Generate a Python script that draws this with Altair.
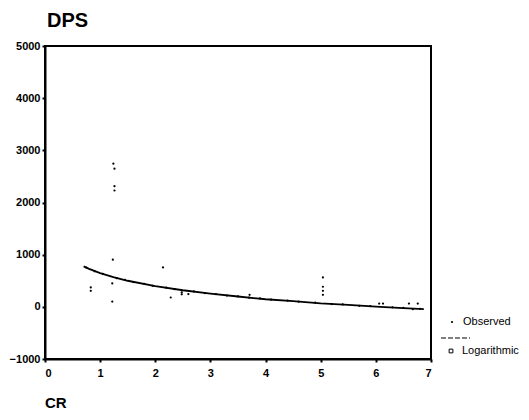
import altair as alt
import pandas as pd

# Observed points
obs_x = [1.24, 1.26, 1.26, 1.26, 1.23, 0.83, 0.83, 1.22, 1.22, 2.14, 2.28, 2.48, 2.48, 2.60,
         3.71, 5.04, 5.04, 5.04, 5.04, 6.06, 6.13, 6.60, 6.76, 6.67,
         0.75, 0.90, 1.05, 1.30, 1.45, 1.60, 1.80, 1.95, 2.20, 2.35, 2.70, 2.90, 3.10,
         3.30, 3.50, 3.70, 3.90, 4.10, 4.40, 4.60, 4.90, 5.20, 5.40, 5.70, 5.90, 6.30,
         6.50, 6.80]
obs_y = [2744, 2648, 2313, 2230, 904, 371, 308, 448, 102, 756, 179, 275, 240, 244,
         231, 563, 385, 308, 231, 63, 63, 63, 63, -44,
         752, 680, 633, 550, 518, 474, 440, 404, 368, 338, 295, 262, 245,
         215, 200, 175, 162, 138, 118, 98, 80, 52, 45, 20, 14, -10,
         -22, -38]

# Logarithmic fit curve
fit_x = [0.70, 0.80, 1.00, 1.24, 1.50, 2.00, 2.50, 3.00, 3.50, 4.00, 4.50, 5.00, 5.50, 6.00, 6.50, 6.87]
fit_y = [775, 727, 647, 570, 500, 398, 318, 253, 198, 145, 108, 66, 36, 3, -24, -44]

x_ticks = [0, 1, 2, 3, 4, 5, 6, 7]
y_ticks = [-1000, 0, 1000, 2000, 3000, 4000, 5000]

obs = pd.DataFrame({"CR": obs_x, "DPS": obs_y})
fit = pd.DataFrame({"CR": fit_x, "DPS": fit_y})

FONT = "Liberation Sans"

xs = alt.Scale(domain=[0, 7], nice=False, zero=False)
ys = alt.Scale(domain=[-1000, 5000], nice=False)

xa = alt.Axis(values=x_ticks, title=None, grid=False, labelFontSize=11, labelFontWeight="bold",
              labelFont=FONT, labelColor="black", tickSize=3, tickWidth=2, tickColor="black",
              labelPadding=5, domainWidth=2, domainColor="black", format="d")
ya = alt.Axis(values=y_ticks, title=None, grid=False, labelFontSize=11, labelFontWeight="bold",
              labelFont=FONT, labelColor="black", tickSize=3, tickWidth=2, tickColor="black",
              labelPadding=2, domainWidth=2, domainColor="black", format="d")

points = alt.Chart(obs).mark_circle(size=5, color="black", opacity=1).encode(
    x=alt.X("CR:Q", scale=xs, axis=xa),
    y=alt.Y("DPS:Q", scale=ys, axis=ya),
)

line = alt.Chart(fit).mark_line(color="black", strokeWidth=1.8).encode(
    x=alt.X("CR:Q", scale=xs),
    y=alt.Y("DPS:Q", scale=ys),
)

one = alt.Data(values=[{"k": 1}])

title = alt.Chart(one).mark_text(font=FONT, fontSize=20, fontWeight="bold", align="left",
                                 baseline="alphabetic", color="black").encode(
    x=alt.value(2), y=alt.value(-19), text=alt.value("DPS"))

xtitle = alt.Chart(one).mark_text(font=FONT, fontSize=15, fontWeight="bold", align="left",
                                  baseline="alphabetic", color="black").encode(
    x=alt.value(0), y=alt.value(362), text=alt.value("CR"))

leg_dot = alt.Chart(one).mark_circle(size=5, color="black", opacity=1).encode(
    x=alt.value(407), y=alt.value(276))
leg_obs = alt.Chart(one).mark_text(font=FONT, fontSize=11, align="left", baseline="middle",
                                   color="black").encode(
    x=alt.value(418), y=alt.value(276), text=alt.value("Observed"))
leg_dash = alt.Chart(one).mark_rule(color="black", strokeWidth=1, strokeDash=[5, 2]).encode(
    x=alt.value(396), x2=alt.value(425), y=alt.value(292))
leg_sq = alt.Chart(one).mark_point(shape="square", filled=False, size=14, strokeWidth=1,
                                   color="black", opacity=1).encode(
    x=alt.value(406), y=alt.value(305))
leg_log = alt.Chart(one).mark_text(font=FONT, fontSize=11, align="left", baseline="middle",
                                   color="black").encode(
    x=alt.value(417), y=alt.value(305), text=alt.value("Logarithmic"))

chart = alt.layer(points, line, title, xtitle, leg_dot, leg_obs, leg_dash, leg_sq, leg_log).properties(
    width=386, height=313,
    autosize=alt.AutoSizeParams(type="none"),
    padding={"left": 37, "top": 38, "right": 90, "bottom": 53},
    background="white",
).configure_view(stroke="black", strokeWidth=2)

chart.save("out.html", embed_options={"renderer": "svg", "actions": False})
